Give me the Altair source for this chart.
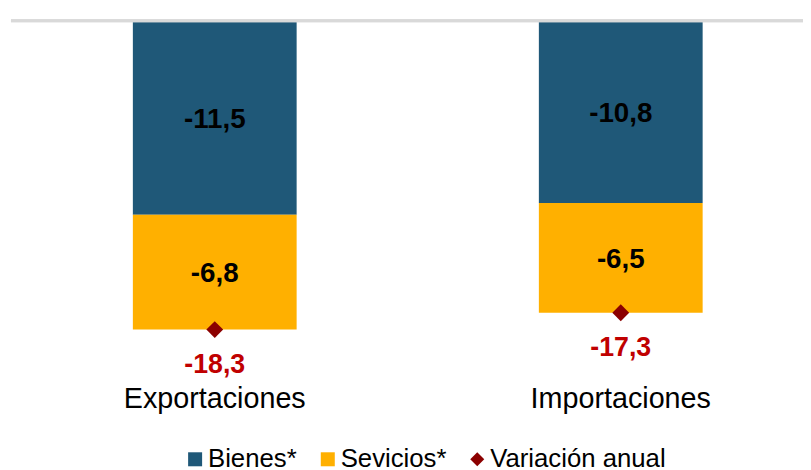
import altair as alt
import pandas as pd

categorias = ["Exportaciones", "Importaciones"]
bienes = [-11.5, -10.8]
servicios = [-6.8, -6.5]
variacion = [-18.3, -17.3]
series = ["Bienes*", "Sevicios*", "Variación anual"]
colores = ["#1F5878", "#FFB000", "#8B0000"]
formas = ["square", "square", "diamond"]

barras = pd.DataFrame({
    "categoria": categorias * 2,
    "serie": [series[0]] * 2 + [series[1]] * 2,
    "orden": [0, 0, 1, 1],
    "valor": bienes + servicios,
})
totales = pd.DataFrame({
    "categoria": categorias,
    "serie": [series[2]] * 2,
    "valor": variacion,
})

FONT = "Liberation Sans"
ETIQ = "replace(replace(format(datum.valor, '.1f'), '.', ','), '\u2212', '-')"

x_enc = alt.X(
    "categoria:N",
    sort=categorias,
    title=None,
    scale=alt.Scale(paddingInner=0.5966, paddingOuter=0.2737, align=0.5618),
    axis=alt.Axis(labelAngle=0, domain=False, ticks=False, labelFontSize=29,
                  labelFont=FONT, labelColor="#000000", labelPadding=27,
                  labelLimit=0),
)
y_scale = alt.Scale(domain=[-20, 0], nice=False, zero=True)
color_scale = alt.Scale(domain=series, range=colores)
shape_scale = alt.Scale(domain=series, range=formas)

base = alt.Chart(barras).transform_window(
    fin="sum(valor)", sort=[alt.SortField("orden")], groupby=["categoria"],
    frame=[None, 0]
).transform_calculate(
    inicio="datum.fin - datum.valor",
    medio="datum.fin - datum.valor / 2",
    etiqueta=ETIQ,
)

bars = base.mark_bar(stroke=None).encode(
    x=x_enc,
    y=alt.Y("inicio:Q", scale=y_scale, axis=None),
    y2="fin:Q",
    color=alt.Color("serie:N", scale=color_scale, title=None),
)

bar_text = base.mark_text(font=FONT, fontSize=28, fontWeight="bold",
                          color="#000000", baseline="middle", dy=2).encode(
    x=alt.X("categoria:N", sort=categorias),
    y=alt.Y("medio:Q", scale=y_scale),
    text="etiqueta:N",
)

zero = alt.Chart(totales).mark_rule(color="#D9D9D9", strokeWidth=3).encode(
    y=alt.datum(0), x=alt.value(3), x2=alt.value(803)
)

pts = alt.Chart(totales).mark_point(filled=True, size=289, opacity=1).encode(
    x=alt.X("categoria:N", sort=categorias),
    y=alt.Y("valor:Q", scale=y_scale),
    color=alt.Color("serie:N", scale=color_scale, title=None),
    shape=alt.Shape("serie:N", scale=shape_scale, title=None),
)

tot_text = alt.Chart(totales).transform_calculate(
    etiqueta=ETIQ
).mark_text(font=FONT, fontSize=27, fontWeight="bold", color="#C00000",
            baseline="alphabetic", dy=44).encode(
    x=alt.X("categoria:N", sort=categorias),
    y=alt.Y("valor:Q", scale=y_scale),
    text="etiqueta:N",
)

chart = alt.layer(bars, zero, bar_text, pts, tot_text).properties(
    width=800, height=341,
    autosize=alt.AutoSizeParams(type="none"),
    padding={"left": 0, "top": 10.5, "right": 3, "bottom": 110.5},
).configure_view(stroke=None).configure_legend(
    orient="none", legendX=176, legendY=430, direction="horizontal",
    labelFont=FONT, labelFontSize=26, labelColor="#000000", labelLimit=0,
    symbolSize=200, symbolStrokeWidth=0, labelOffset=0, columnPadding=18,
    padding=0,
)

chart.save("out.html", embed_options={"renderer": "svg", "actions": False})
